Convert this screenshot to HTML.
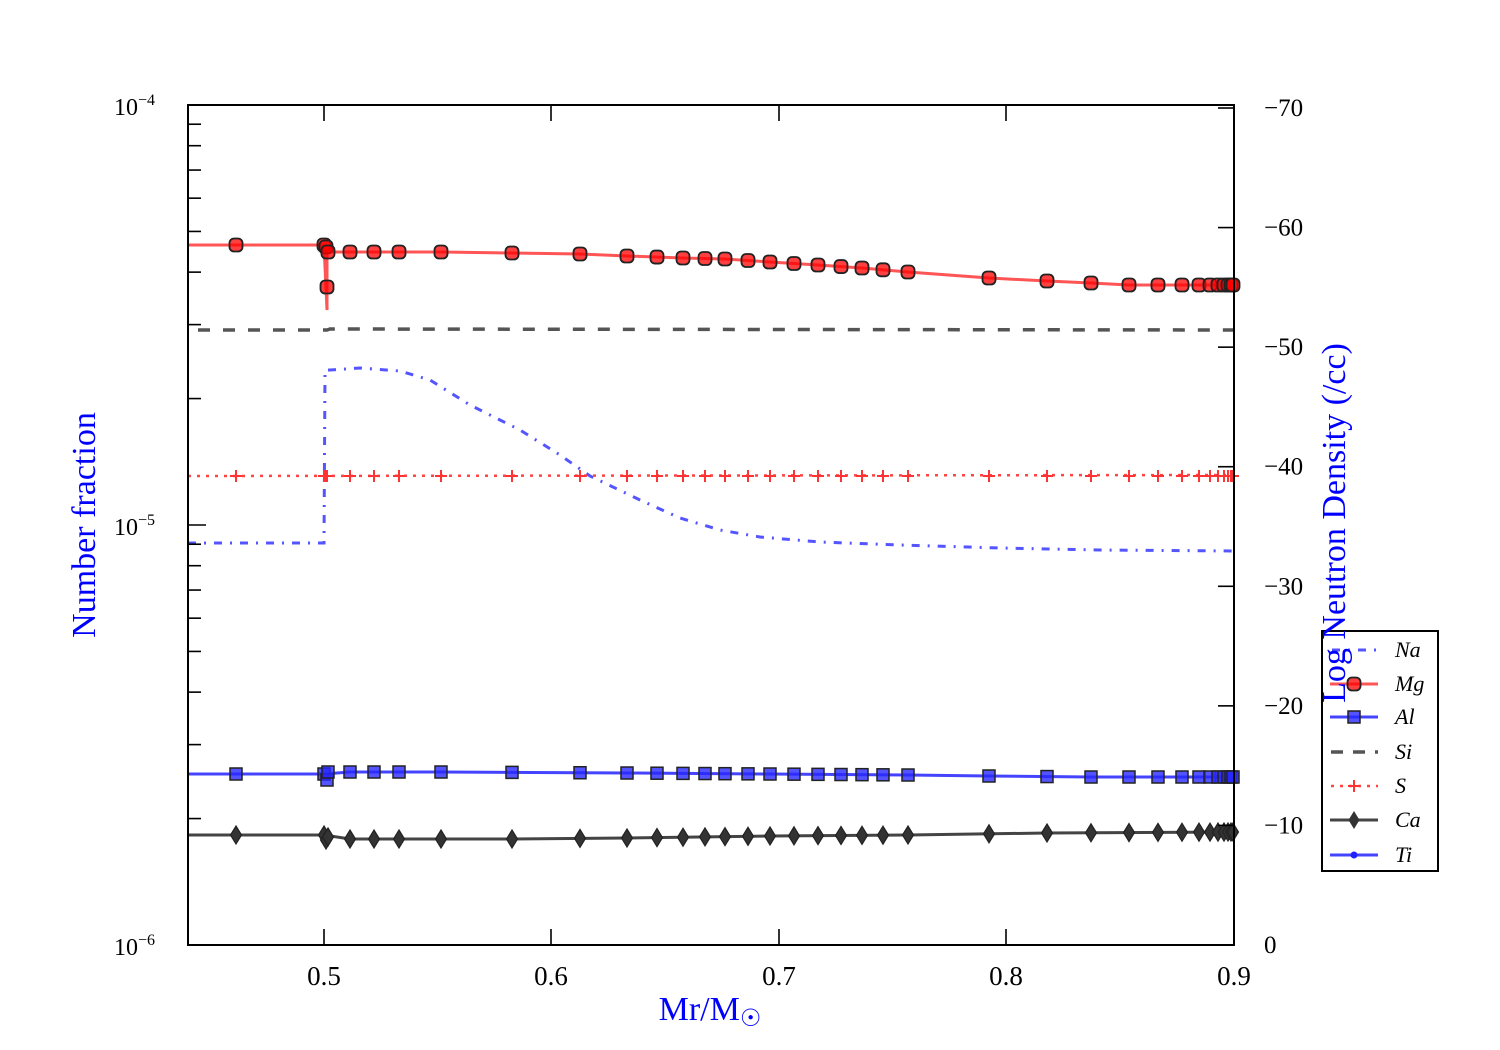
<!DOCTYPE html>
<html><head><style>body{margin:0;background:#fff}svg{display:block}</style></head>
<body>
<svg id="s" width="1500" height="1050" xmlns="http://www.w3.org/2000/svg" font-family="Liberation Serif, serif">
<rect width="1500" height="1050" fill="#fff"/>
<g id="data"></g>
<g id="axes" stroke="#000" stroke-width="2" fill="none">
<rect x="188" y="105" width="1046" height="840"/>
</g>
<g id="ticks" stroke="#000" stroke-width="1.6"></g>
<g font-size="27" text-anchor="middle">
<text x="324" y="985">0.5</text><text x="551" y="985">0.6</text><text x="779" y="985">0.7</text><text x="1006" y="985">0.8</text><text x="1234" y="985">0.9</text>
</g>
<g font-size="24" text-anchor="end">
<text x="155" y="115">10<tspan dy="-10" font-size="16">−4</tspan></text>
<text x="155" y="535">10<tspan dy="-10" font-size="16">−5</tspan></text>
<text x="155" y="955">10<tspan dy="-10" font-size="16">−6</tspan></text>
</g>
<g font-size="25" id="rl"></g>
<text x="710" y="1020" font-size="34" fill="#00f" text-anchor="middle">Mr/M<tspan font-size="24" dy="6">☉</tspan></text>
<text transform="translate(95,525) rotate(-90)" font-size="34" fill="#00f" text-anchor="middle">Number fraction</text>
<g id="leg"></g>
<text transform="translate(1345,523) rotate(-90)" font-size="34" fill="#00f" text-anchor="middle">Log Neutron Density (/cc)</text>
</svg>
<script>
const NS="http://www.w3.org/2000/svg";
function el(p,t,a){const e=document.createElementNS(NS,t);for(const k in a)e.setAttribute(k,a[k]);document.getElementById(p).appendChild(e);return e;}
function interp(pts,x){for(let i=0;i<pts.length-1;i++){if(x<=pts[i+1][0]){const t=(x-pts[i][0])/(pts[i+1][0]-pts[i][0]);return pts[i][1]+t*(pts[i+1][1]-pts[i][1]);}}return pts[pts.length-1][1];}
const X=[350,374,399,441,512,580,627,657,683,705,725,748,770,794,818,841,862,883,908,989,1047,1091,1129,1158,1182,1199,1210,1218,1224,1228,1231,1233];
for(let d=0;d<2;d++)for(let m=2;m<=9;m++){const y=945-d*420-Math.log10(m)*420;el('ticks','line',{x1:188,x2:201,y1:y,y2:y});}
for(const y of [105,525,945]){el('ticks','line',{x1:188,x2:206,y1:y,y2:y});}
for(const x of [324,551,779,1006,1234]){el('ticks','line',{x1:x,x2:x,y1:945,y2:929});el('ticks','line',{x1:x,x2:x,y1:105,y2:121});}
for(let i=0;i<=7;i++){const y=945-i*119.57;el('ticks','line',{x1:1234,x2:1218,y1:y,y2:y});const t=el('rl','text',{x:1264,y:y+8});t.textContent=i?('−'+i*10):'0';}
el('data','polyline',{points:'198,330 327,330 330,329 1234,330',stroke:'#555',"stroke-width":3.5,fill:'none',"stroke-dasharray":'12,13'});
const na=[[330,370],[360,368],[400,371],[430,380],[470,405],[520,430],[560,455],[590,476],[640,500],[680,518],[720,530],[760,537],[820,542],[900,545],[1000,548],[1100,550],[1234,551]];
el('data','polyline',{points:'188,543 324,543 325,370 '+na.map(p=>p.join(',')).join(' '),stroke:'#55f',"stroke-width":3,fill:'none',"stroke-dasharray":'8,8,2,8'});
el('data','polyline',{points:'188,476 1234,475',stroke:'#f44',"stroke-width":2.5,fill:'none',"stroke-dasharray":'3,6'});
for(const x of [236,324,325,327,...X]){const y=476;el('data','path',{d:`M${x-6},${y}h12M${x},${y-6}v12`,stroke:'#f33',"stroke-width":2});}
const mg=[[350,252],[441,252],[512,253],[580,254],[627,256],[683,258],[725,259],[770,262],[818,265],[862,268],[908,272],[989,278],[1047,281],[1091,283],[1129,285],[1234,285]];
el('data','polyline',{points:'188,245 324,245 327,310 327,252 '+mg.map(p=>p.join(',')).join(' '),stroke:'#f55',"stroke-width":3,fill:'none'});
const mgp=[[236,245],[324,245],[326,247],[327,287],[328,252],...X.map(x=>[x,interp(mg,x)])];
for(const [x,y] of mgp)el('data','rect',{x:x-6.5,y:y-6.5,width:13,height:13,rx:4.5,fill:'rgba(255,0,0,.75)',stroke:'#222',"stroke-width":1.8});
const al=[[350,772],[441,772],[627,773],[770,774],[908,775],[989,776],[1091,777],[1234,777]];
el('data','polyline',{points:'188,774 324,774 '+al.map(p=>p.join(',')).join(' '),stroke:'#44f',"stroke-width":3,fill:'none'});
for(const [x,y] of [[236,774],[324,774],[327,780],[328,772],...X.map(x=>[x,interp(al,x)])])el('data','rect',{x:x-6,y:y-6,width:12,height:12,fill:'rgba(40,40,255,.8)',stroke:'#222',"stroke-width":1.5});
const ca=[[350,839],[512,839],[627,838],[770,836],[908,835],[1047,833],[1234,832]];
el('data','polyline',{points:'188,835 324,835 '+ca.map(p=>p.join(',')).join(' '),stroke:'#444',"stroke-width":3,fill:'none'});
for(const [x,y] of [[236,835],[324,835],[326,840],[328,837],...X.map(x=>[x,interp(ca,x)])])el('data','path',{d:`M${x},${y-9}L${x+5.5},${y}L${x},${y+9}L${x-5.5},${y}Z`,fill:'#333',stroke:'#222',"stroke-width":1.2});
el('leg','rect',{x:1322,y:631,width:116,height:240,fill:'#fff',stroke:'#000',"stroke-width":2});
const names=['Na','Mg','Al','Si','S','Ca','Ti'],ys=[650,684,717,752,786,820,855];
names.forEach((n,i)=>{const y=ys[i];const t=el('leg','text',{x:1395,y:y+7,"font-size":22,"font-style":'italic'});t.textContent=n;});
el('leg','line',{x1:1332,x2:1378,y1:650,y2:650,stroke:'#55f',"stroke-width":3,"stroke-dasharray":'8,8,2,8'});
el('leg','line',{x1:1330,x2:1378,y1:684,y2:684,stroke:'#f55',"stroke-width":3});
el('leg','rect',{x:1347.5,y:677.5,width:13,height:13,rx:4.5,fill:'rgba(255,0,0,.75)',stroke:'#222',"stroke-width":1.8});
el('leg','line',{x1:1330,x2:1378,y1:717,y2:717,stroke:'#44f',"stroke-width":3});
el('leg','rect',{x:1348,y:711,width:12,height:12,fill:'rgba(40,40,255,.8)',stroke:'#222',"stroke-width":1.5});
el('leg','line',{x1:1331,x2:1378,y1:752,y2:752,stroke:'#555',"stroke-width":3.5,"stroke-dasharray":'12,10'});
el('leg','line',{x1:1331,x2:1378,y1:786,y2:786,stroke:'#f44',"stroke-width":2.5,"stroke-dasharray":'3,6'});
el('leg','path',{d:'M1348,786h12M1354,780v12',stroke:'#f33',"stroke-width":2});
el('leg','line',{x1:1330,x2:1378,y1:820,y2:820,stroke:'#444',"stroke-width":3});
el('leg','path',{d:'M1354,811L1359.5,820L1354,829L1348.5,820Z',fill:'#333'});
el('leg','line',{x1:1330,x2:1378,y1:855,y2:855,stroke:'#44f',"stroke-width":3});
el('leg','circle',{cx:1354,cy:855,r:3.5,fill:'#22f'});
</script>
</body></html>
